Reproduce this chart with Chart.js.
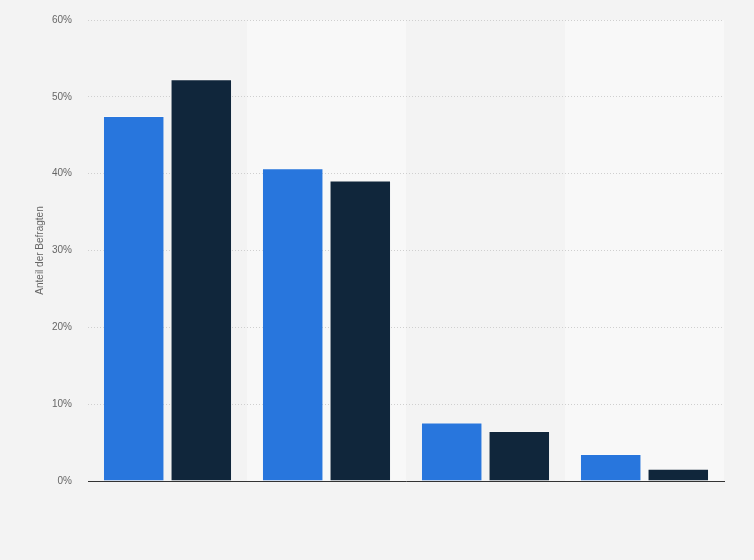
<!DOCTYPE html>
<html>
<head>
<meta charset="utf-8">
<script src="https://cdn.jsdelivr.net/npm/chart.js@4"></script>
<style>
  html, body { margin: 0; padding: 0; background: #f3f3f3; }
  #wrap { width: 754px; height: 560px; }
</style>
</head>
<body>
<div id="wrap"><canvas id="grafico"></canvas></div>
<script>
const categorias = ['', '', '', ''];
const serieA = [47.5, 40.7, 7.6, 3.5];
const serieB = [52.3, 39.1, 6.5, 1.6];
const ticksY = [0, 10, 20, 30, 40, 50, 60];

// faixas alternadas atrás das categorias
const faixas = {
  id: 'faixas',
  beforeDraw(chart) {
    const { ctx, chartArea, scales } = chart;
    ctx.save();
    ctx.fillStyle = '#f3f3f3';
    ctx.fillRect(0, 0, chart.width, chart.height);
    const larg = (chartArea.right - chartArea.left) / categorias.length;
    ctx.fillStyle = '#f8f8f8';
    categorias.forEach((c, i) => {
      if (i % 2 === 1) {
        const x = scales.x.getPixelForValue(i) - larg / 2;
        ctx.fillRect(x, chartArea.top, larg, chartArea.bottom - chartArea.top);
      }
    });
    ctx.restore();
  }
};

const ctx = document.getElementById('grafico').getContext('2d');

new Chart(ctx, {
  type: 'bar',
  data: {
    labels: categorias,
    datasets: [{
      label: 'A',
      data: serieA,
      backgroundColor: '#2876dd',
      borderColor: 'rgba(255,255,255,0.35)',
      borderWidth: 1,
      categoryPercentage: 0.85,
      barPercentage: 0.91
    }, {
      label: 'B',
      data: serieB,
      backgroundColor: '#10263b',
      borderColor: 'rgba(255,255,255,0.3)',
      borderWidth: 1,
      categoryPercentage: 0.85,
      barPercentage: 0.91
    }]
  },
  options: {
    responsive: true,
    maintainAspectRatio: false,
    animation: false,
    layout: { padding: { top: 20, right: 30, bottom: 0, left: 0 } },
    plugins: {
      legend: { display: false },
      tooltip: { enabled: false }
    },
    scales: {
      x: {
        ticks: { display: false },
        grid: { display: false },
        border: { display: true, color: '#333', width: 1 },
        afterFit(scale) { scale.height = 79; }
      },
      y: {
        min: 0,
        max: 60,
        afterBuildTicks(scale) { scale.ticks = ticksY.map(v => ({ value: v })); },
        ticks: {
          padding: 16,
          color: '#666',
          font: { family: 'Liberation Sans, Arial, sans-serif', size: 10 },
          callback: v => v + '%'
        },
        grid: { color: '#cfcfcf', drawTicks: false },
        border: { display: false, dash: [1, 2] },
        title: {
          display: true,
          text: 'Anteil der Befragten',
          color: '#666',
          font: { family: 'Liberation Sans, Arial, sans-serif', size: 10 },
          padding: { top: 34, bottom: 0 }
        },
        afterFit(scale) {
          scale.width = 88;
          scale.paddingTop = 0;
          scale.paddingBottom = 0;
        }
      }
    }
  },
  plugins: [faixas]
});
</script>
</body>
</html>
